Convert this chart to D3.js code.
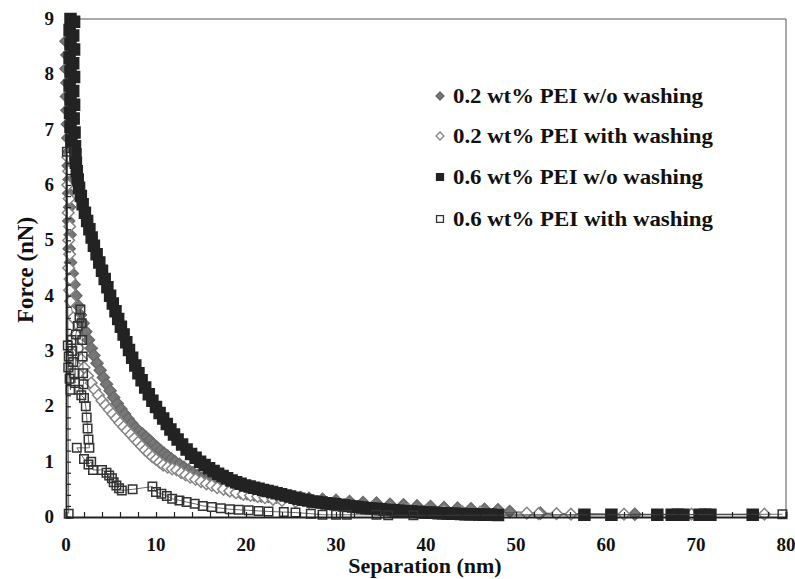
<!DOCTYPE html>
<html><head><meta charset="utf-8">
<script src="https://cdn.jsdelivr.net/npm/d3@7"></script>
<style>
html,body{margin:0;padding:0;background:#fff;}
svg text{font-family:"Liberation Serif","Times New Roman",serif;font-weight:bold;fill:#111;}
</style></head>
<body><svg id="c" width="795" height="579"></svg>
<script>
// ---- data ----
const seriesNames = ["0.2 wt% PEI w/o washing","0.2 wt% PEI with washing","0.6 wt% PEI w/o washing","0.6 wt% PEI with washing"];
const xTicks = [0,10,20,30,40,50,60,70,80];
const yTicks = [0,1,2,3,4,5,6,7,8,9];

const pei02NoWash = [[0.0,8.6],[0.1,8.35],[0.0,8.1],[0.1,7.85],[0.05,7.6],[0.1,7.35],[0.15,7.1],[0.2,6.85],[0.3,6.6],[0.25,6.35],[0.35,6.1],[0.3,5.85],[0.4,5.6],[0.3,5.35],[0.45,5.1],[0.35,4.85],[0.5,4.6],[0.7,4.4],[0.9,4.2],[1.1,4.0],[1.35,3.82],[1.6,3.65],[1.9,3.5],[2.2,3.35],[2.5,3.2],[2.8,3.05],[3.1,2.92],[3.45,2.78],[3.8,2.65],[4.15,2.52],[4.5,2.4],[4.9,2.28],[5.3,2.16],[5.7,2.05],[6.1,1.95],[6.5,1.86],[6.9,1.77],[7.3,1.69],[7.7,1.61],[8.1,1.55],[8.5,1.5],[8.9,1.44],[9.3,1.38],[9.7,1.32],[10.1,1.26],[10.5,1.2],[10.9,1.15],[11.3,1.1],[11.7,1.05],[12.1,1.0],[12.6,0.95],[13.1,0.9],[13.6,0.85],[14.1,0.8],[14.6,0.75],[15.1,0.7],[15.6,0.66],[16.2,0.62],[16.8,0.57],[17.4,0.53],[18.0,0.5],[18.7,0.47],[19.4,0.44],[20.1,0.42],[20.9,0.4],[21.7,0.38],[22.5,0.37],[23.4,0.36],[24.3,0.36],[25.2,0.36],[26.1,0.35],[27.0,0.34],[28.5,0.32],[30.0,0.3],[31.5,0.28],[33.0,0.26],[34.5,0.25],[36.0,0.23],[37.5,0.22],[39.0,0.2],[40.5,0.19],[42.0,0.17],[43.5,0.16],[45.0,0.15],[46.5,0.14],[48.0,0.13],[49.3,0.1],[52.7,0.07],[63.2,0.05]];

const pei02Wash = [[0.2,6.5],[0.3,6.25],[0.2,6.0],[0.35,5.75],[0.25,5.5],[0.4,5.25],[0.3,5.0],[0.4,4.75],[0.3,4.5],[0.45,4.3],[0.4,4.1],[0.5,3.9],[0.8,3.6],[1.1,3.3],[1.4,3.05],[1.7,2.85],[2.0,2.7],[2.4,2.55],[2.8,2.42],[3.2,2.3],[3.6,2.2],[4.0,2.1],[4.4,2.02],[4.8,1.94],[5.2,1.86],[5.6,1.78],[6.0,1.7],[6.4,1.63],[6.8,1.56],[7.2,1.49],[7.6,1.42],[8.0,1.35],[8.4,1.28],[8.8,1.21],[9.2,1.15],[9.6,1.09],[10.0,1.04],[10.4,0.99],[10.8,0.94],[11.3,0.9],[11.8,0.87],[12.3,0.85],[12.8,0.8],[13.3,0.76],[13.8,0.72],[14.4,0.68],[15.0,0.64],[15.6,0.6],[16.2,0.57],[16.8,0.53],[17.5,0.5],[18.2,0.47],[18.9,0.44],[19.7,0.41],[20.5,0.39],[21.3,0.37],[22.1,0.35],[23.0,0.32],[24.0,0.3],[25.5,0.28],[27.0,0.26],[28.5,0.24],[30.0,0.22],[32.0,0.2],[34.0,0.18],[36.0,0.16],[38.0,0.14],[40.0,0.12],[42.0,0.11],[44.0,0.1],[46.0,0.09],[48.0,0.08],[51.2,0.07],[52.5,0.06],[54.5,0.06],[56.1,0.05],[62.0,0.05],[69.5,0.05],[77.6,0.05]];

const pei06NoWash = [[0.5,9.0],[0.9,8.95],[0.4,8.8],[0.8,8.7],[0.5,8.55],[0.9,8.45],[0.4,8.3],[0.8,8.2],[0.5,8.05],[0.9,7.95],[0.4,7.8],[0.8,7.7],[0.5,7.55],[0.9,7.45],[0.45,7.3],[0.85,7.2],[0.5,7.05],[0.95,6.95],[0.6,6.8],[1.0,6.7],[1.05,6.55],[1.1,6.4],[1.2,6.25],[1.3,6.1],[1.45,5.95],[1.65,5.8],[1.85,5.65],[2.1,5.5],[2.35,5.35],[2.6,5.2],[2.85,5.05],[3.1,4.9],[3.4,4.75],[3.7,4.6],[4.0,4.45],[4.3,4.3],[4.6,4.15],[4.9,4.0],[5.2,3.86],[5.5,3.72],[5.8,3.58],[6.1,3.44],[6.4,3.3],[6.7,3.16],[7.0,3.02],[7.35,2.88],[7.7,2.74],[8.05,2.6],[8.4,2.47],[8.8,2.34],[9.2,2.22],[9.6,2.1],[10.0,1.99],[10.4,1.88],[10.8,1.78],[11.2,1.68],[11.6,1.58],[12.0,1.49],[12.4,1.4],[12.9,1.31],[13.4,1.22],[13.9,1.14],[14.4,1.07],[14.9,1.0],[15.4,0.94],[15.9,0.88],[16.4,0.83],[16.9,0.78],[17.4,0.74],[17.9,0.7],[18.4,0.66],[18.9,0.63],[19.4,0.6],[19.9,0.57],[20.4,0.55],[20.9,0.53],[21.4,0.51],[21.9,0.49],[22.4,0.47],[22.9,0.45],[23.4,0.43],[23.9,0.41],[24.4,0.39],[24.9,0.37],[25.4,0.35],[25.9,0.33],[26.4,0.31],[26.9,0.3],[27.4,0.28],[27.9,0.27],[28.4,0.26],[28.9,0.25],[29.4,0.24],[29.9,0.23],[30.4,0.22],[30.9,0.21],[31.4,0.2],[31.9,0.19],[32.4,0.18],[32.9,0.17],[33.4,0.16],[33.9,0.155],[34.4,0.15],[34.9,0.14],[35.4,0.13],[35.9,0.125],[36.4,0.12],[36.9,0.115],[37.4,0.11],[37.9,0.1],[38.4,0.1],[38.9,0.09],[39.4,0.09],[39.9,0.08],[40.4,0.08],[40.9,0.075],[41.4,0.07],[41.9,0.07],[42.4,0.065],[42.9,0.06],[43.4,0.06],[43.9,0.055],[44.4,0.05],[44.9,0.05],[45.4,0.05],[45.9,0.045],[46.4,0.04],[46.9,0.04],[47.4,0.04],[48.0,0.035],[57.6,0.04],[60.6,0.04],[65.7,0.04],[67.3,0.04],[68.0,0.04],[68.6,0.04],[70.4,0.04],[71.0,0.04],[71.6,0.04],[76.3,0.04]];

const pei06Wash = [[0.3,0.06],[0.1,6.6],[0.2,3.1],[0.3,2.9],[0.25,2.7],[0.4,2.5],[0.5,2.3],[0.6,3.2],[0.7,3.0],[0.8,2.8],[0.9,2.6],[1.0,2.42],[1.1,3.3],[1.3,3.45],[1.5,3.6],[1.6,3.75],[1.75,3.5],[1.8,3.2],[1.85,2.9],[1.9,2.6],[1.95,2.4],[1.4,2.3],[1.7,2.2],[2.0,2.15],[2.2,2.0],[2.3,1.8],[2.4,1.6],[2.5,1.4],[2.6,1.25],[1.2,1.25],[2.0,1.05],[2.5,0.95],[2.8,1.0],[3.0,0.85],[4.0,0.85],[4.5,0.8],[4.8,0.75],[5.1,0.7],[5.3,0.63],[5.6,0.57],[5.9,0.52],[6.2,0.48],[7.4,0.5],[9.6,0.55],[10.0,0.45],[10.6,0.42],[11.2,0.38],[11.8,0.33],[12.6,0.3],[13.4,0.27],[14.3,0.24],[15.2,0.2],[16.2,0.18],[17.2,0.16],[18.2,0.14],[19.2,0.13],[20.3,0.12],[21.4,0.11],[22.5,0.1],[24.2,0.09],[25.5,0.08],[27.2,0.06],[28.5,0.04],[30.0,0.04],[31.2,0.04],[34.5,0.04],[35.8,0.03],[38.6,0.03],[79.6,0.05]];

// ---- layout ----
const svg = d3.select("#c");
const x = d3.scaleLinear().domain([0,80]).range([66,786]);
const y = d3.scaleLinear().domain([0,9]).range([517,19]);

const styles = [
  {data:pei02NoWash, shape:"diamond", fill:"#777777", stroke:"#6a6a6a", size:72},
  {data:pei02Wash,   shape:"diamond", fill:"#ffffff", stroke:"#858585", size:68},
  {data:pei06NoWash, shape:"square",  fill:"#232323", stroke:"#232323", size:121},
  {data:pei06Wash,   shape:"square",  fill:"none",    stroke:"#333333", size:72}
];

const line = d3.line().x(d=>x(d[0])).y(d=>y(d[1]));
const sym = (shape,size)=>d3.symbol().type(d3.symbolSquare).size(size)();

// frame (top & right)
svg.append("path").attr("d",`M${x(0)},${y(9)}H${x(80)}V${y(0)}`)
  .attr("fill","none").attr("stroke","#555").attr("stroke-width",1);

// series
styles.forEach(s=>{
  const g = svg.append("g");
  g.append("path").datum(s.data).attr("d",line)
    .attr("fill","none").attr("stroke","#444").attr("stroke-width",0.8);
  g.selectAll("path.m").data(s.data).enter().append("path").attr("class","m")
    .attr("d",sym(s.shape,s.size))
    .attr("transform",d=>`translate(${x(d[0])},${y(d[1])})`+(s.shape==="diamond"?" rotate(45)":""))
    .attr("fill",s.fill).attr("stroke",s.stroke).attr("stroke-width",1.5);
});

// axes
const yAx = d3.axisLeft(y).tickValues(d3.range(0,9.001,0.2)).tickSize(-5).tickFormat("");
svg.append("g").attr("transform",`translate(${x(0)},0)`).call(yAx)
  .call(g=>g.select(".domain").attr("stroke","#222").attr("stroke-width",1.8))
  .call(g=>g.selectAll(".tick line").attr("stroke","#222").attr("stroke-width",1.2));
const xAx = d3.axisBottom(x).tickValues(d3.range(0,80.001,2)).tickSize(-5).tickFormat("");
svg.append("g").attr("transform",`translate(0,${y(0)})`).call(xAx)
  .call(g=>g.select(".domain").attr("stroke","#222").attr("stroke-width",1.8))
  .call(g=>g.selectAll(".tick line").attr("stroke","#222").attr("stroke-width",1.2));

// tick labels
svg.selectAll("text.yl").data(yTicks).enter().append("text")
  .attr("x",54).attr("y",d=>y(d)+6).attr("text-anchor","end")
  .attr("font-size",19).text(d=>d);
svg.selectAll("text.xl").data(xTicks).enter().append("text")
  .attr("x",d=>x(d)).attr("y",551).attr("text-anchor","middle")
  .attr("font-size",19).text(d=>d);

// titles
svg.append("text").attr("x",425).attr("y",573).attr("text-anchor","middle")
  .attr("font-size",22).text("Separation (nm)");
svg.append("text").attr("transform","translate(33,270) rotate(-90)").attr("text-anchor","middle")
  .attr("font-size",23).text("Force (nN)");

// legend
const legY = [103,143,184,226];
const legW = [250,260,250,260];
seriesNames.forEach((n,i)=>{
  const s = styles[i];
  svg.append("path").attr("d",sym(s.shape, s.shape==="diamond"?32:48))
    .attr("transform",`translate(440,${legY[i]-7})`+(s.shape==="diamond"?" rotate(45)":""))
    .attr("fill",s.fill).attr("stroke",s.stroke).attr("stroke-width",1.3);
  svg.append("text").attr("x",453).attr("y",legY[i]).attr("font-size",22)
    .attr("textLength",legW[i]).attr("lengthAdjust","spacingAndGlyphs").text(n);
});
</script></body></html>
